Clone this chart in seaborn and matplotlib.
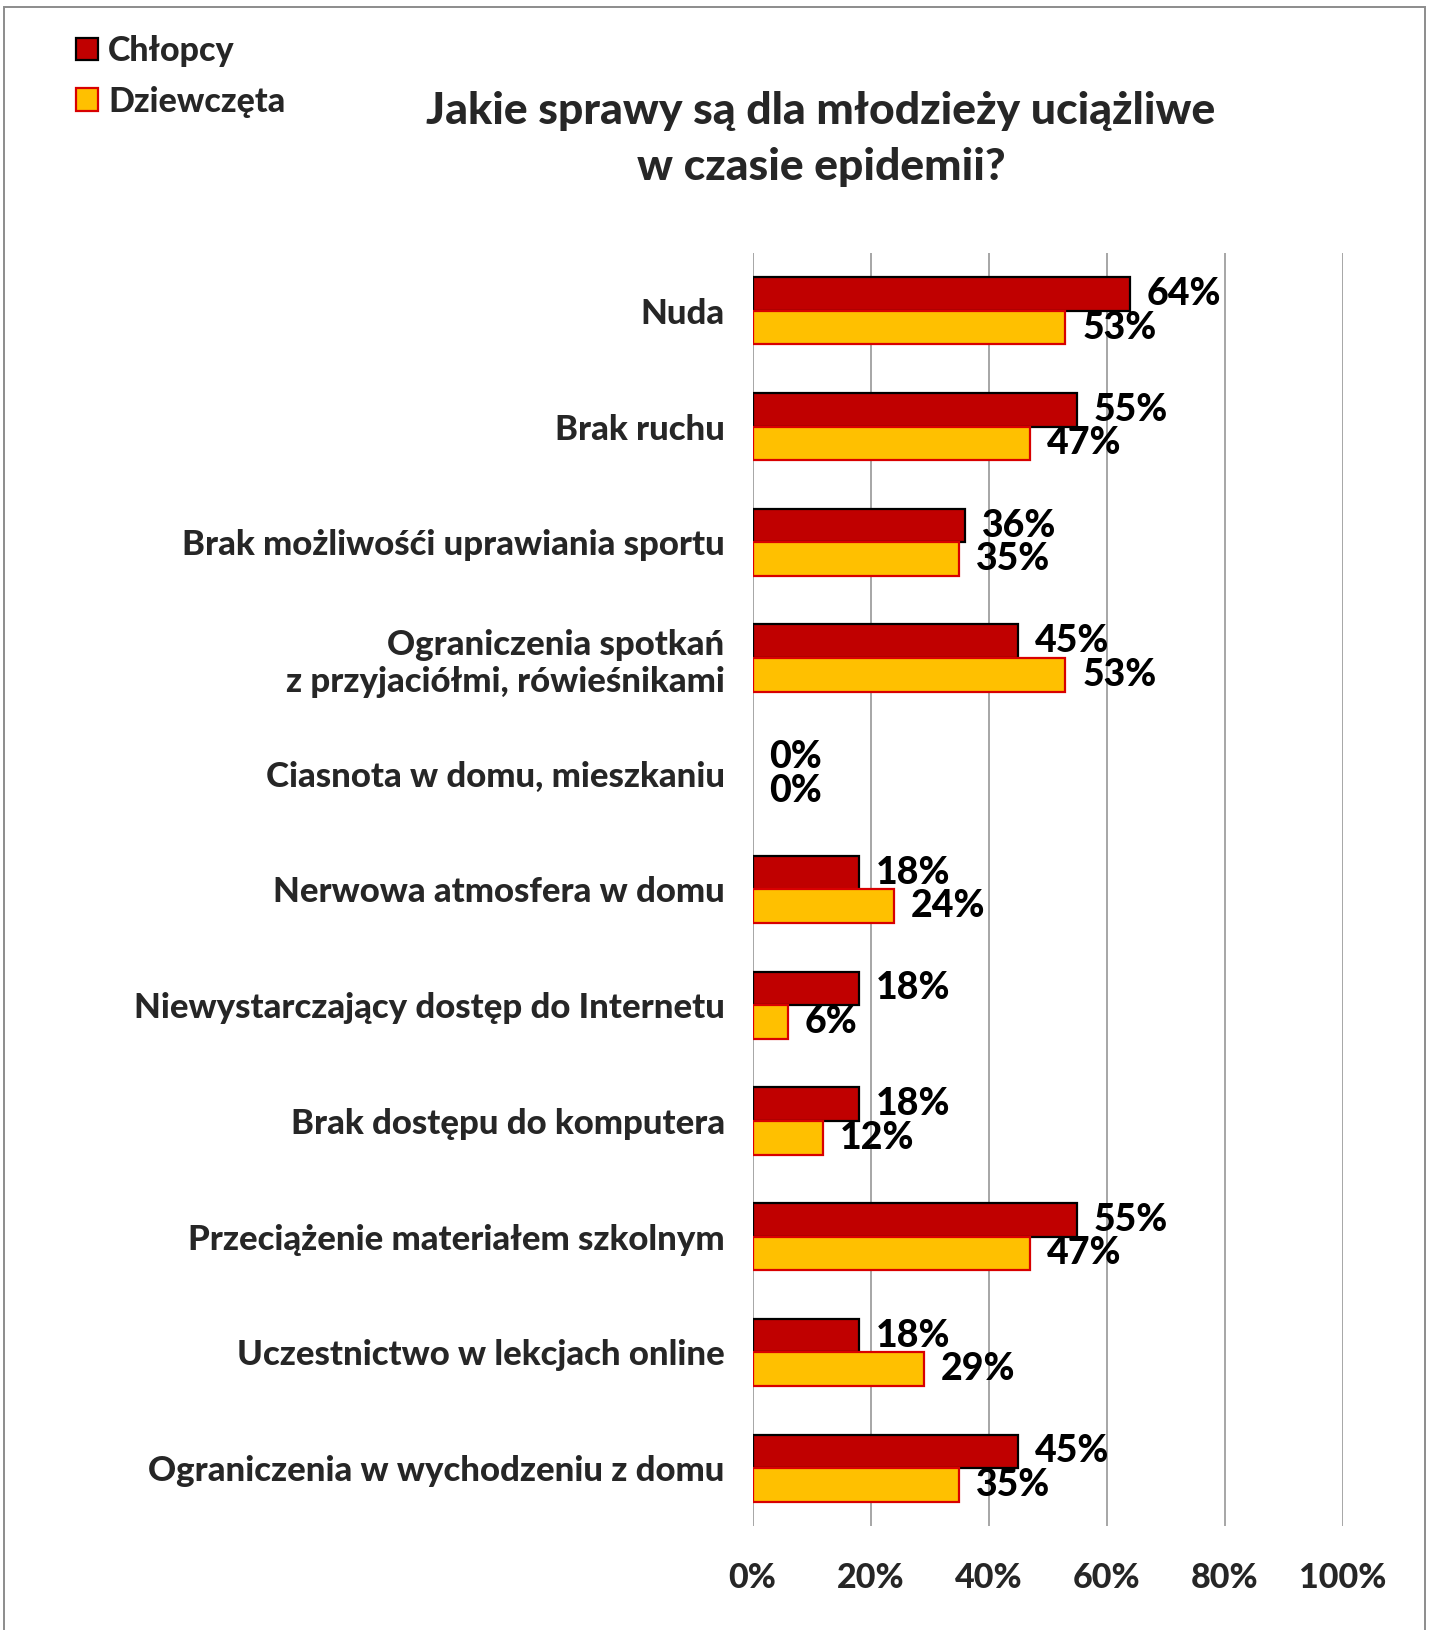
import matplotlib
matplotlib.use("Agg")
import matplotlib.pyplot as plt
from matplotlib.patches import Patch, Rectangle
import pandas as pd
import seaborn as sns

categories = [
    "Nuda",
    "Brak ruchu",
    "Brak możliwośći uprawiania sportu",
    "Ograniczenia spotkań\nz przyjaciółmi, rówieśnikami",
    "Ciasnota w domu, mieszkaniu",
    "Nerwowa atmosfera w domu",
    "Niewystarczający dostęp do Internetu",
    "Brak dostępu do komputera",
    "Przeciążenie materiałem szkolnym",
    "Uczestnictwo w lekcjach online",
    "Ograniczenia w wychodzeniu z domu",
]
boys = [64, 55, 36, 45, 0, 18, 18, 18, 55, 18, 45]
girls = [53, 47, 35, 53, 0, 24, 6, 12, 47, 29, 35]
series = ["Chłopcy", "Dziewczęta"]
x_ticks = [0, 20, 40, 60, 80, 100]
title = "Jakie sprawy są dla młodzieży uciążliwe\nw czasie epidemii?"

df = pd.DataFrame({
    "kategoria": categories * 2,
    "grupa": [series[0]] * len(categories) + [series[1]] * len(categories),
    "procent": boys + girls,
})

sns.set_theme(style="white")
plt.rcParams["font.family"] = ["Lato", "DejaVu Sans"]
WEIGHT = "black"

fill = {"Chłopcy": "#C00000", "Dziewczęta": "#FFC000"}
edge = {"Chłopcy": "#000000", "Dziewczęta": "#D80000"}

W, H = 1429, 1630
fig = plt.figure(figsize=(W / 100, H / 100), dpi=100)
ax = fig.add_axes([752.5 / W, 1 - 1526 / H, 590.5 / W, 1273 / H])

sns.barplot(data=df, y="kategoria", x="procent", hue="grupa", order=categories,
            hue_order=series, palette=fill, saturation=1, orient="h",
            width=0.58, gap=0, legend=False, ax=ax)

for cont, name in zip(ax.containers, series):
    vals = boys if name == series[0] else girls
    for bar, v in zip(cont, vals):
        bar.set_edgecolor(edge[name])
        bar.set_linewidth(1.6 if v > 0 else 0)
    ax.bar_label(cont, labels=[f"{v}%" for v in vals], padding=12,
                 fontsize=27, fontweight=WEIGHT, color="black")

ax.set_xlim(0, 100)
ax.set_ylim(len(categories) - 0.5, -0.5)
ax.set_xticks(x_ticks)
ax.set_xticklabels([f"{t}%" for t in x_ticks], fontsize=24.5, fontweight=WEIGHT)
ax.xaxis.grid(True, color="#A6A6A6", linewidth=1.4)
ax.set_axisbelow(True)
ax.tick_params(axis="x", length=0, pad=26)
ax.tick_params(axis="y", length=0, pad=20)
for lab in ax.get_yticklabels():
    lab.set_fontsize(25)
    lab.set_fontweight(WEIGHT)
    lab.set_horizontalalignment("right")
    lab.set_multialignment("right")
ax.set_xlabel("")
ax.set_ylabel("")
for s in ax.spines.values():
    s.set_visible(False)

fig.text(821 / W, 1 - 139 / H, title, ha="center", va="center",
         fontsize=32, fontweight=WEIGHT, linespacing=1.5)

handles = [Patch(facecolor=fill[s], edgecolor=edge[s], linewidth=1.6) for s in series]
fig.legend(handles, series, loc="upper left", bbox_to_anchor=(76 / W, 1 - 35 / H),
           frameon=False, handlelength=0.65, handleheight=0.65,
           handletextpad=0.3, labelspacing=0.55, borderpad=0, borderaxespad=0,
           prop={"weight": WEIGHT, "size": 24.5})

fig.patches.append(Rectangle((4 / W, -0.01), 1421 / W, 1 - 7 / H + 0.01,
                             transform=fig.transFigure, fill=False,
                             edgecolor="#8C8C8C", linewidth=1.4))

fig.savefig("out.png", dpi=100, facecolor="white")
